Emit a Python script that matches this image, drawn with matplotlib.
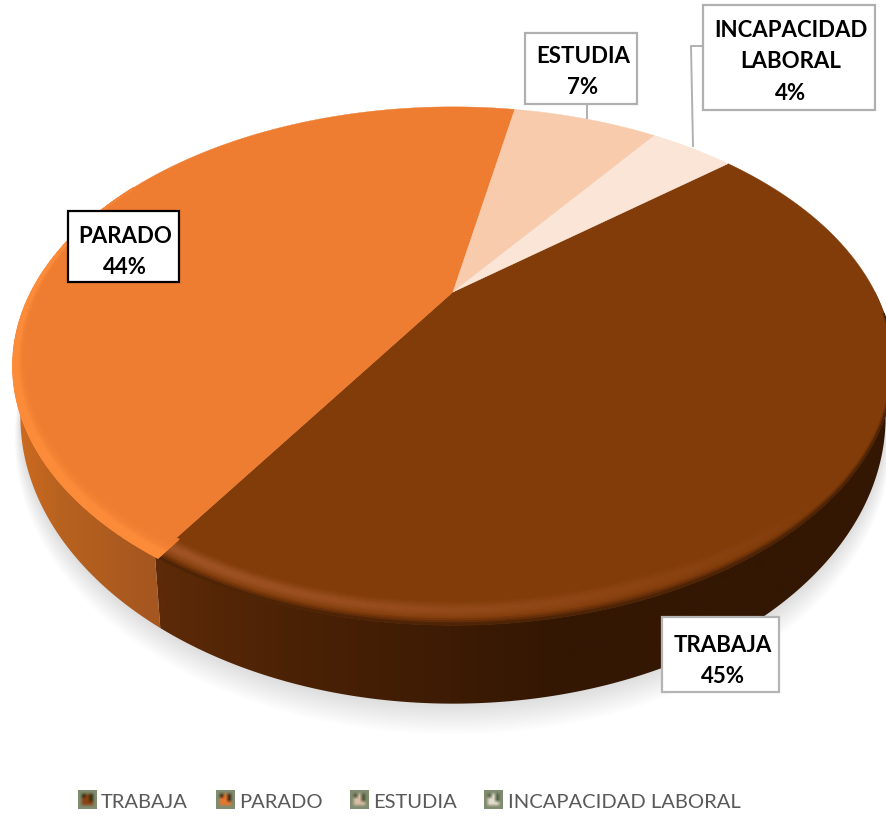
import numpy as np
import matplotlib
matplotlib.use('Agg')
import matplotlib.pyplot as plt
from matplotlib.collections import PolyCollection
from matplotlib.colors import to_rgb
from matplotlib.patches import Polygon, Rectangle

categories = ['TRABAJA', 'PARADO', 'ESTUDIA', 'INCAPACIDAD LABORAL']
box_names = ['TRABAJA', 'PARADO', 'ESTUDIA', 'INCAPACIDAD\nLABORAL']
values = [45, 44, 7, 4]
top_colors = ['#823c0a', '#ee7d31', '#f8cbad', '#fbe5d6']

START = 50.4
K = 0.2855
plt.rcParams['font.family'] = ['Lato', 'DejaVu Sans']


def top_xy(t, r=1.0):
    u, v = r*np.sin(np.radians(t)), r*np.cos(np.radians(t))
    w = 1 + K*v
    return 453 + 422*u/w, 292 - 238*v/w


def low_xy(t):
    u, v = np.sin(np.radians(t)), np.cos(np.radians(t))
    w = 1 + K*v
    return 453 + 414.6*u/w, 335 - 263.4*v/w


def mix(a, b, f):
    a, b = np.array(to_rgb(a)), np.array(to_rgb(b))
    return a + (b - a)*f


fig = plt.figure(figsize=(8.87, 8.16), dpi=100)
ax = fig.add_axes([0, 0, 1, 1])
ax.axis('off')

# soft shadow under the pie
tt = np.linspace(0, 360, 361)
for d in np.arange(2, 27, 1.5):
    ax.add_patch(Polygon(np.c_[453 + (432 + d*0.25)*np.sin(np.radians(tt)),
                              416 + d*0.9 + (286 + d*0.35)*np.cos(np.radians(tt))],
                         fc='black', ec='none', alpha=0.0075, zorder=1))

edges = START + np.cumsum([0] + values)*3.6

# side walls, shaded along x
grad_x = np.arange(0, 888)
side_stops = [
    ([165, 300, 450, 560, 900], ['#5c2a08', '#4a2105', '#3d1b04', '#331703', '#331703'],
     np.linspace(90, edges[1], 200)),
    ([20, 60, 150, 170], ['#cc6a20', '#b8621f', '#a65720', '#a65720'],
     np.linspace(edges[1], 300, 200)),
]
for sx, sc, t in side_stops:
    rgb = np.array([to_rgb(c) for c in sc])
    img = np.stack([np.interp(grad_x, sx, rgb[:, j]) for j in range(3)], axis=1)[None, :, :]
    im = ax.imshow(img, extent=(0, 887, 816, 0), aspect='auto', zorder=2, interpolation='bilinear')
    x0, y0 = top_xy(t)
    x1, y1 = low_xy(t)
    clip = Polygon(np.r_[np.c_[x0, y0], np.c_[x1, y1][::-1]], transform=ax.transData)
    im.set_clip_path(clip)

ax.set_xlim(0, 887)
ax.set_ylim(816, 0)

# top face
for i, c in enumerate(top_colors):
    t = np.linspace(edges[i], edges[i + 1], 200)
    x, y = top_xy(t)
    ax.add_patch(Polygon(np.r_[[top_xy(0, 0)], np.c_[x, y]], fc=c, ec=c, lw=0.3, zorder=3))

# bevel on the front of the rim
quads, cols = [], []
sv = np.linspace(0, 1, 13)
for t in np.arange(95, 300, 1.0):
    trabaja = t + 0.5 < edges[1]
    if trabaja:
        width = np.interp(t, [95, 130, 160, 215], [0.012, 0.03, 0.055, 0.055])
    else:
        width = np.interp(t, [212, 240, 275, 300], [0.055, 0.045, 0.022, 0.012])
    for s0, s1 in zip(sv[:-1], sv[1:]):
        r0 = 1 - width*(1 - s0)
        r1 = 1 - width*(1 - s1)
        s = (s0 + s1)/2
        x0, y0 = top_xy(t, r0)
        x1, y1 = top_xy(t + 1, r0)
        x2, y2 = top_xy(t + 1, r1)
        x3, y3 = top_xy(t, r1)
        quads.append([(x0, y0), (x1, y1), (x2, y2), (x3, y3)])
        if trabaja:
            h = np.clip((t - 135)/75, 0, 1)
            col = mix('#823c0a', '#a05426', h*np.sin(np.pi*min(s/0.85, 1))**2)
            if s > 0.7:
                col = mix(col, '#3a1a04', ((s - 0.7)/0.3)**1.5*0.9)
        else:
            h = np.clip((315 - t)/40, 0.15, 1)
            col = mix('#ee7d31', '#fc8b3a', h*min(s/0.7, 1)**3)
        cols.append(col)
ax.add_collection(PolyCollection(quads, facecolors=cols, edgecolors=cols, linewidths=0.8, zorder=4))

# leader lines
ax.plot([587, 587], [104, 118], color='#b0b0b0', lw=1.4, zorder=5)
ax.plot([703, 691, 693], [46, 46, 146], color='#b0b0b0', lw=1.4, zorder=5)

# data label boxes
boxes = [(662, 617, 117, 75, '#b4b4b4'), (68, 211, 111, 71, '#000000'),
         (525, 33, 112, 71, '#b0b0b0'), (703, 5, 172, 105, '#b0b0b0')]
label_pos = [(723, 661), (125, 252), (583, 72), (791, 62)]
for i, (bx, by, bw, bh, ec) in enumerate(boxes):
    ax.add_patch(Rectangle((bx, by), bw, bh, fc='white', ec=ec, lw=1.6, zorder=6))
    ax.text(label_pos[i][0], label_pos[i][1], '%s\n%d%%' % (box_names[i], values[i]),
            ha='center', va='center', fontsize=16, fontweight='bold', color='black',
            linespacing=1.62, zorder=7)

# legend
leg_sw = [78, 216, 350, 484]
leg_tx = [101, 239, 373, 508]
leg_inner = ['#8a4212', '#e8762c', '#d9bda4', '#e4dacd']
leg_side = ['#33300f', '#3f2a14', '#4a5536', '#525f42']
for i, name in enumerate(categories):
    rim = np.array(to_rgb('#7f8c6f'))
    side = np.array(to_rgb(leg_side[i]))
    mid = np.array(to_rgb(leg_inner[i]))
    img = np.array([[rim, rim, rim, rim, rim],
                    [rim, side, mid, side, rim],
                    [rim, mid, mid, side, rim],
                    [rim, mid, mid, mid, rim],
                    [rim, rim, rim, rim, rim]])
    ax.imshow(img, extent=(leg_sw[i], leg_sw[i] + 19, 809, 790), aspect='auto',
              interpolation='bilinear', zorder=5)
    ax.text(leg_tx[i], 802.5, name, ha='left', va='center', fontsize=14.5, color='#595959')

ax.set_xlim(0, 887)
ax.set_ylim(816, 0)
fig.savefig('out.png', dpi=100)
